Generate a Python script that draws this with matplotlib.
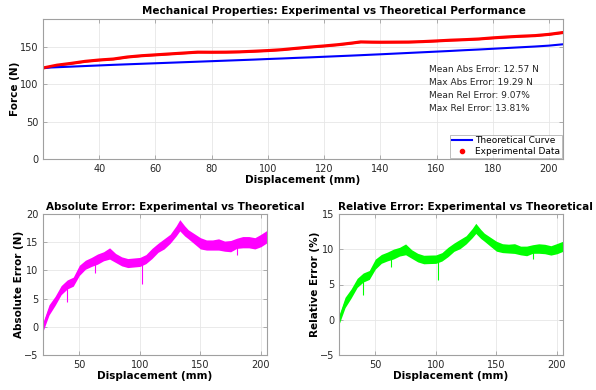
import numpy as np
import matplotlib.pyplot as plt
from matplotlib.lines import Line2D

disp = [20, 25, 30, 35, 40, 45, 50, 55, 60, 65, 70, 75, 80, 85, 90, 95, 100,
        105, 110, 115, 120, 125, 130, 133, 137, 140, 145, 150, 155, 160, 165,
        170, 175, 180, 185, 190, 195, 200, 205]
# theoretical force (N)
theory = [122.0, 122.8, 123.6, 124.4, 125.2, 126.0, 126.7, 127.4, 128.1, 128.8,
          129.5, 130.2, 130.9, 131.6, 132.3, 133.0, 133.8, 134.5, 135.3, 136.0,
          136.8, 137.6, 138.4, 138.9, 139.6, 140.1, 141.0, 141.9, 142.8, 143.7,
          144.6, 145.6, 146.5, 147.5, 148.5, 149.5, 150.5, 151.7, 153.5]
# absolute error (N), centre of the noisy band
abs_err = [0.0, 3.0, 4.6, 6.5, 7.5, 8.0, 10.0, 11.0, 11.5, 12.0, 12.5, 13.0,
           12.2, 11.6, 11.3, 11.4, 11.5, 12.0, 13.0, 14.0, 14.7, 15.6, 17.0,
           18.0, 17.0, 16.4, 15.6, 14.8, 14.5, 14.5, 14.6, 14.3, 14.3, 14.8,
           15.0, 15.0, 14.8, 15.3, 16.0]
# half width of the noise band (N)
band = [0.8, 0.9, 0.8, 0.8, 0.8, 0.8, 0.9, 0.8, 0.8, 0.9, 0.8, 1.0, 0.8, 0.8,
        0.8, 0.8, 0.8, 0.8, 0.9, 0.8, 0.9, 0.8, 0.9, 1.0, 0.9, 0.8, 0.9, 1.0,
        0.9, 0.9, 1.0, 0.9, 1.0, 0.9, 1.0, 1.0, 1.0, 1.1, 1.1]
# single downward spikes (x, lowest abs error)
spike_x = [39.5, 101.5, 63, 180]
spike_low = [4.4, 7.6, 9.6, 12.8]

stats = ["Mean Abs Error: 12.57 N", "Max Abs Error: 19.29 N",
         "Mean Rel Error: 9.07%", "Max Rel Error: 13.81%"]

disp = np.array(disp)
theory = np.array(theory)
abs_err = np.array(abs_err)
band = np.array(band)
exper = theory + abs_err
rel_err = abs_err / theory * 100
rel_band = band / theory * 100
spike_th = np.interp(spike_x, disp, theory)
spike_rel = np.array(spike_low) / spike_th * 100

plt.rcParams['font.family'] = 'DejaVu Sans'
fig = plt.figure(figsize=(5.96, 3.9), dpi=100)

grid_c = '#e6e6e6'
frame_c = '#a0a0a0'


def style(ax):
    ax.grid(True, color=grid_c, lw=0.6)
    ax.set_axisbelow(True)
    for s in ax.spines.values():
        s.set_color(frame_c)
        s.set_linewidth(0.8)
    ax.tick_params(direction='in', length=3, width=0.6, color=frame_c,
                   labelsize=7, labelcolor='#262626', top=True, right=True)


ax1 = fig.add_axes([43 / 596, 1 - 159 / 390, 520 / 596, 140.5 / 390])
style(ax1)
ax1.plot(disp, theory, color='#0000ff', lw=1.5)
ax1.fill_between(disp, exper - 1.6, exper + 1.6, color='#ff0000', lw=0)
ax1.plot(disp, exper, color='#ff0000', lw=2)
ax1.set_xlim(20, 205)
ax1.set_ylim(0, 188)
ax1.set_xticks(range(40, 201, 20))
ax1.set_yticks([0, 50, 100, 150])
ax1.set_xlabel('Displacement (mm)', fontsize=7.5, fontweight='bold', labelpad=1)
ax1.set_ylabel('Force (N)', fontsize=7.5, fontweight='bold', labelpad=0)
ax1.set_title('Mechanical Properties: Experimental vs Theoretical Performance',
              fontsize=7.5, fontweight='bold', x=0.56, pad=3)
for i, s in enumerate(stats):
    ax1.text(0.742, 0.635 - i * 0.093, s, transform=ax1.transAxes,
             fontsize=6.5, va='center', color='#262626')
handles = [Line2D([], [], color='#0000ff', lw=1.5),
           Line2D([], [], color='#ff0000', lw=0, marker='.', markersize=6)]
leg = ax1.legend(handles, ['Theoretical Curve', 'Experimental Data'],
                 loc='lower right', fontsize=6.5, fancybox=False,
                 borderpad=0.2, labelspacing=0.15, handlelength=2.2,
                 handletextpad=0.3, borderaxespad=0.15)
leg.get_frame().set_edgecolor(frame_c)
leg.get_frame().set_linewidth(0.6)

ax2 = fig.add_axes([43 / 596, 1 - 355 / 390, 224 / 596, 141 / 390])
style(ax2)
ax2.fill_between(disp, abs_err - band, abs_err + band, color='#ff00ff', lw=0)
ax2.plot(disp, abs_err, color='#ff00ff', lw=0.8)
ax2.vlines(spike_x, spike_low, np.interp(spike_x, disp, abs_err),
           color='#ff00ff', lw=0.8)
ax2.set_xlim(20, 205)
ax2.set_ylim(-5, 20)
ax2.set_xticks([50, 100, 150, 200])
ax2.set_xlabel('Displacement (mm)', fontsize=7.5, fontweight='bold', labelpad=1)
ax2.set_ylabel('Absolute Error (N)', fontsize=7.5, fontweight='bold', labelpad=0)
ax2.set_title('Absolute Error: Experimental vs Theoretical',
              fontsize=7.5, fontweight='bold', x=0.59, pad=3)

ax3 = fig.add_axes([339 / 596, 1 - 355 / 390, 224 / 596, 141 / 390])
style(ax3)
ax3.fill_between(disp, rel_err - rel_band, rel_err + rel_band,
                 color='#00ff00', lw=0)
ax3.plot(disp, rel_err, color='#00ff00', lw=0.8)
ax3.vlines(spike_x, spike_rel, np.interp(spike_x, disp, rel_err),
           color='#00ff00', lw=0.8)
ax3.set_xlim(20, 205)
ax3.set_ylim(-5, 15)
ax3.set_xticks([50, 100, 150, 200])
ax3.set_xlabel('Displacement (mm)', fontsize=7.5, fontweight='bold', labelpad=1)
ax3.set_ylabel('Relative Error (%)', fontsize=7.5, fontweight='bold', labelpad=0)
ax3.set_title('Relative Error: Experimental vs Theoretical',
              fontsize=7.5, fontweight='bold', x=0.565, pad=3)

fig.savefig('out.png', dpi=100)
